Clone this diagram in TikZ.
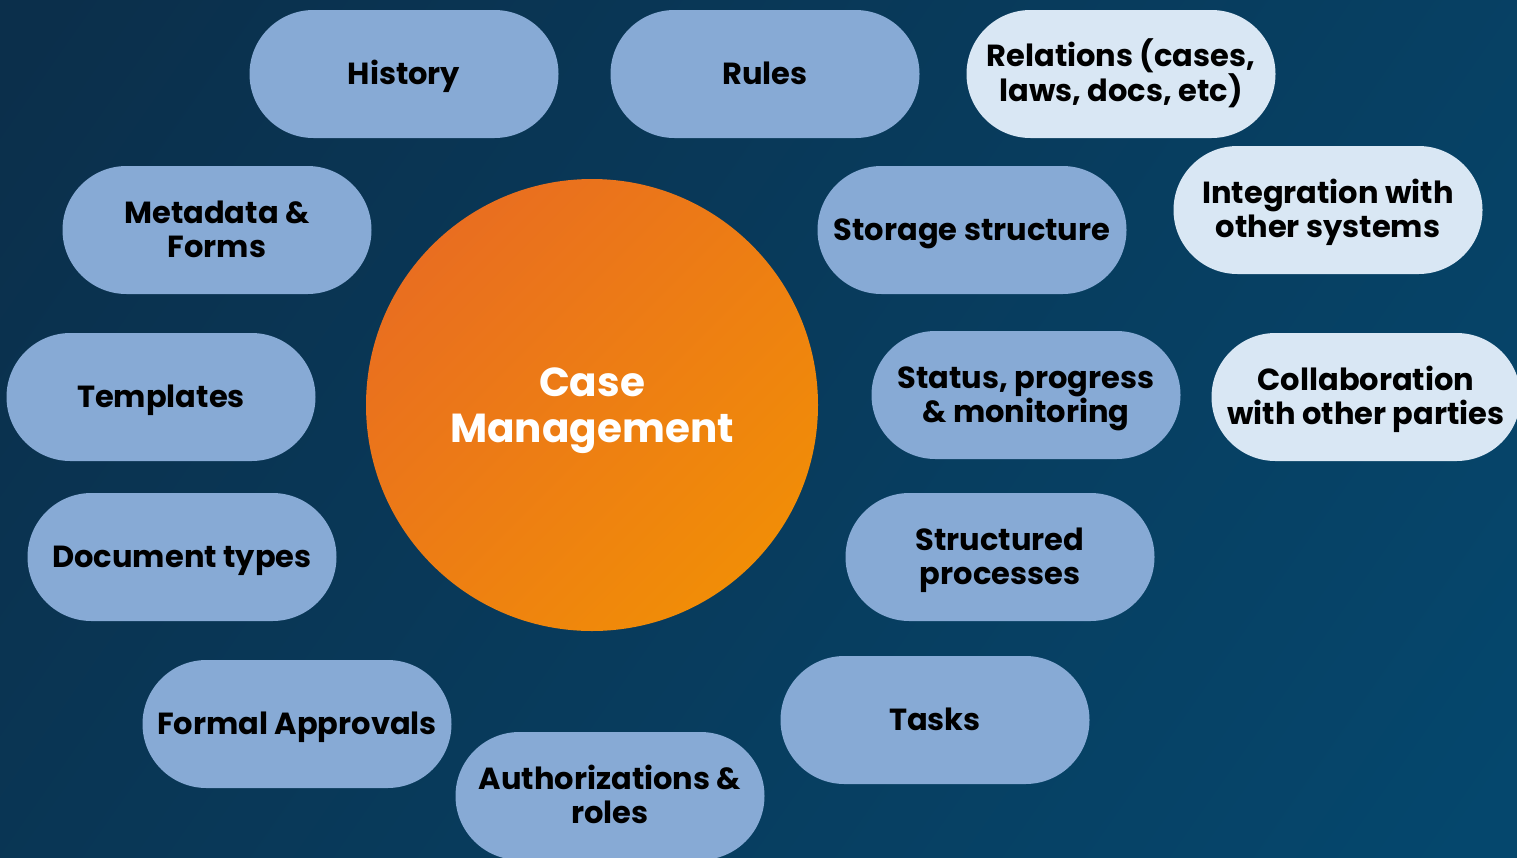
\documentclass[tikz,border=0pt]{standalone}
\usepackage{fontspec}
\setmainfont{Poppins}
\usetikzlibrary{shapes.misc}

\definecolor{navydark}{HTML}{0B2F4B}
\definecolor{navylight}{HTML}{05476D}
\definecolor{pillblue}{HTML}{87AAD5}
\definecolor{pillpale}{HTML}{D9E7F4}
\definecolor{hubtop}{HTML}{E96E20}
\definecolor{hubbottom}{HTML}{F18D07}

\begin{document}
\begin{tikzpicture}[x=1pt, y=-1pt,
  pill/.style = {rounded rectangle, minimum width=309pt, minimum height=128pt,
    inner sep=0pt, fill=pillblue, align=center, text=black,
    font=\fontsize{30.5}{34}\selectfont\bfseries,
    text height=21.5pt, text depth=0pt},
  twolines/.style = {text height=55.5pt},
  palepill/.style = {pill, fill=pillpale},
  hub/.style = {circle, minimum size=452pt, inner sep=0pt, align=center,
    text=white, shading=axis, top color=hubtop, bottom color=hubbottom,
    shading angle=45, font=\fontsize{40.5}{46}\selectfont\bfseries,
    text height=74.5pt, text depth=0pt}]
\useasboundingbox (0,0) rectangle (1517,857);
\begin{scope}
\clip (0,0) rectangle (1517,857);
\shade[shading=axis, top color=navydark, bottom color=navylight, shading angle=55]
  (-200,-200) rectangle (1717,1057);

% centre
\node[hub] (case) at (592,405) {Case\\Management};

% left side
\node[pill] (history) at (404,74) {History};
\node[pill, twolines] (meta) at (217,230) {Metadata \&\\Forms};
\node[pill] (templates) at (161,397) {Templates};
\node[pill] (doctypes) at (182,557) {Document types};
\node[pill] (approvals) at (297,724) {Formal Approvals};
\node[pill, twolines] (auth) at (610,796) {Authorizations \&\\roles};

% right side
\node[pill] (rules) at (765,74) {Rules};
\node[pill] (storage) at (972,230) {Storage structure};
\node[pill, twolines] (status) at (1026,395) {Status, progress\\\& monitoring};
\node[pill, twolines] (processes) at (1000,557) {Structured\\processes};
\node[pill] (tasks) at (935,720) {Tasks};

% outer column
\node[palepill, twolines] (relations) at (1121,74) {Relations (cases,\\laws, docs, etc)};
\node[palepill, twolines] (integration) at (1328,210) {Integration with\\other systems};
\node[palepill, twolines] (collab) at (1366,397) {Collaboration\\with other parties};
\end{scope}
\end{tikzpicture}
\end{document}
